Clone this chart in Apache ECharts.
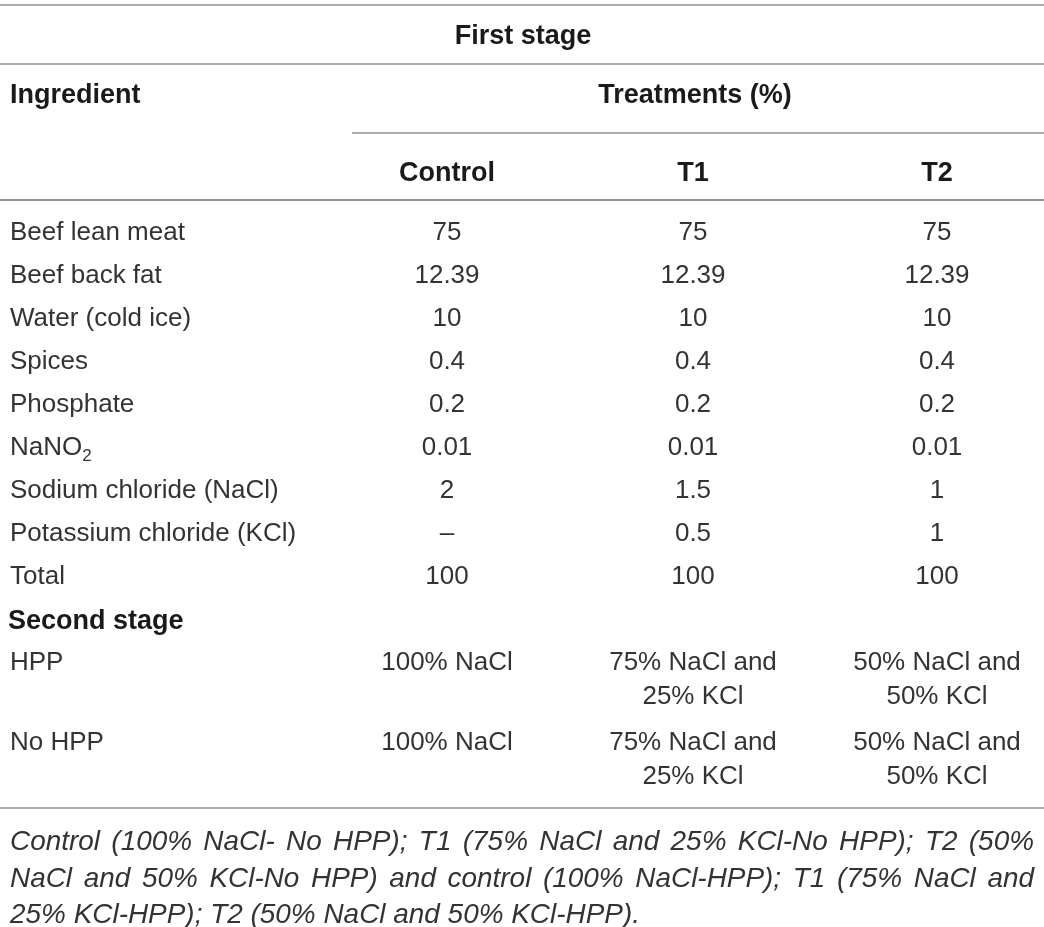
<!DOCTYPE html>
<html>
<head>
<meta charset="utf-8">
<script src="https://cdn.jsdelivr.net/npm/echarts@6/dist/echarts.min.js"></script>
<style>
html, body { margin: 0; padding: 0; background: #fff; }
#chart { width: 1044px; height: 927px; }
</style>
</head>
<body>
<div id="chart"></div>
<script>
// Содержимое таблицы
const stageTitles = ['First stage', 'Second stage'];
const ingredientTitle = 'Ingredient';
const treatmentTitle = 'Treatments (%)';
const treatments = ['Control', 'T1', 'T2'];
const ingredients = ['Beef lean meat', 'Beef back fat', 'Water (cold ice)', 'Spices', 'Phosphate',
    'NaNO{sub|2}', 'Sodium chloride (NaCl)', 'Potassium chloride (KCl)', 'Total'];
const controlValues = ['75', '12.39', '10', '0.4', '0.2', '0.01', '2', '–', '100'];
const t1Values = ['75', '12.39', '10', '0.4', '0.2', '0.01', '1.5', '0.5', '100'];
const t2Values = ['75', '12.39', '10', '0.4', '0.2', '0.01', '1', '1', '100'];
const secondStageRows = ['HPP', 'No HPP'];
const secondStageValues = ['100% NaCl', '75% NaCl and\n25% KCl', '50% NaCl and\n50% KCl'];
const footnoteLines = [
    'Control (100% NaCl- No HPP); T1 (75% NaCl and 25% KCl-No HPP); T2 (50%',
    'NaCl and 50% KCl-No HPP) and control (100% NaCl-HPP); T1 (75% NaCl and',
    '25% KCl-HPP); T2 (50% NaCl and 50% KCl-HPP).'
];

// Разметка
const W = 1044, H = 927;
const colX = [10, 447, 693, 937];
const dy = 2; // сдвиг текста вниз
const stageY = 35, treatY = 94, colHeadY = 172;
const firstRowY = 231, rowStep = 43;
const secondTitleY = 620;
const secondRowY = [678, 758];
const footY = [840, 877, 913];
const footLeft = 10, footRight = 1034, lastLineWidth = 630;
const rules = [[0, W, 5, 1.5], [0, W, 64, 1.5], [352, W, 133, 1.5], [0, W, 200, 2], [0, W, 808, 1.5]];

const fonts = {
    head: { fontFamily: 'Liberation Sans', fontSize: 27, fontWeight: 'bold', fill: '#1a1a1a' },
    body: { fontFamily: 'Liberation Sans', fontSize: 26, fontWeight: 'normal', fill: '#333333' },
    foot: { fontFamily: 'Liberation Sans', fontSize: 28, fontStyle: 'italic', fill: '#333333' }
};

// Ячейки таблицы
const cells = [];
const addCell = (x, y, text, kind, align, scaleX) =>
    cells.push({ x, y: y + dy, text, kind, align, scaleX: scaleX || 1 });

addCell(523, stageY, stageTitles[0], 'head', 'center');
addCell(colX[0], treatY, ingredientTitle, 'head', 'left');
addCell(695, treatY, treatmentTitle, 'head', 'center');
treatments.forEach((t, i) => addCell(colX[i + 1], colHeadY, t, 'head', 'center'));

ingredients.forEach((name, r) => {
    const y = firstRowY + r * rowStep;
    addCell(colX[0], y, name, 'body', 'left');
    addCell(colX[1], y, controlValues[r], 'body', 'center');
    addCell(colX[2], y, t1Values[r], 'body', 'center');
    addCell(colX[3], y, t2Values[r], 'body', 'center');
});

addCell(8, secondTitleY, stageTitles[1], 'head', 'left');
secondStageRows.forEach((name, r) => {
    const y = secondRowY[r];
    addCell(colX[0], y - 17, name, 'body', 'left');
    secondStageValues.forEach((v, c) => {
        if (v.indexOf('\n') < 0) addCell(colX[c + 1], y - 17, v, 'body', 'center');
        else addCell(colX[c + 1], y, v, 'body', 'center');
    });
});

// Примечание: выравнивание по ширине
const ctx = document.createElement('canvas').getContext('2d');
ctx.font = 'italic ' + fonts.foot.fontSize + 'px "Liberation Sans"';
const measure = s => ctx.measureText(s).width;
const footScale = lastLineWidth / measure(footnoteLines[2]);
footnoteLines.forEach((line, i) => {
    const words = line.split(' ');
    const widths = words.map(w => measure(w) * footScale);
    const total = widths.reduce((a, b) => a + b, 0);
    const gap = i < footnoteLines.length - 1
        ? (footRight - footLeft - total) / (words.length - 1)
        : measure(' ') * footScale;
    let x = footLeft;
    words.forEach((w, k) => {
        addCell(x, footY[i], w, 'foot', 'left', footScale);
        x += widths[k] + gap;
    });
});

const chart = echarts.init(document.getElementById('chart'));
chart.setOption({
    animation: false,
    backgroundColor: '#fff',
    grid: { left: 0, right: 0, top: 0, bottom: 0 },
    xAxis: { type: 'value', min: 0, max: W, show: false },
    yAxis: { type: 'value', min: 0, max: H, inverse: true, show: false },
    series: [
        {
            type: 'custom',
            silent: true,
            data: rules.map(r => [r[0], r[1], r[2], r[3]]),
            renderItem: (params, api) => {
                const p1 = api.coord([api.value(0), api.value(2)]);
                const p2 = api.coord([api.value(1), api.value(2)]);
                return {
                    type: 'line',
                    shape: { x1: p1[0], y1: p1[1], x2: p2[0], y2: p2[1] },
                    style: { stroke: '#8f8f8f', lineWidth: api.value(3) }
                };
            }
        },
        {
            type: 'custom',
            silent: true,
            data: cells.map((c, i) => [c.x, c.y, i]),
            renderItem: (params, api) => {
                const c = cells[api.value(2)];
                const p = api.coord([api.value(0), api.value(1)]);
                const f = fonts[c.kind];
                return {
                    type: 'text',
                    x: p[0],
                    y: p[1],
                    scaleX: c.scaleX,
                    style: {
                        x: 0,
                        y: 0,
                        text: c.text,
                        fontFamily: f.fontFamily,
                        fontSize: f.fontSize,
                        fontWeight: f.fontWeight || 'normal',
                        fontStyle: f.fontStyle || 'normal',
                        fill: f.fill,
                        align: c.align,
                        verticalAlign: 'middle',
                        lineHeight: 34,
                        rich: {
                            sub: {
                                fontFamily: f.fontFamily,
                                fontSize: 17,
                                fill: f.fill,
                                lineHeight: 18,
                                verticalAlign: 'bottom'
                            }
                        }
                    }
                };
            }
        }
    ]
});
</script>
</body>
</html>
